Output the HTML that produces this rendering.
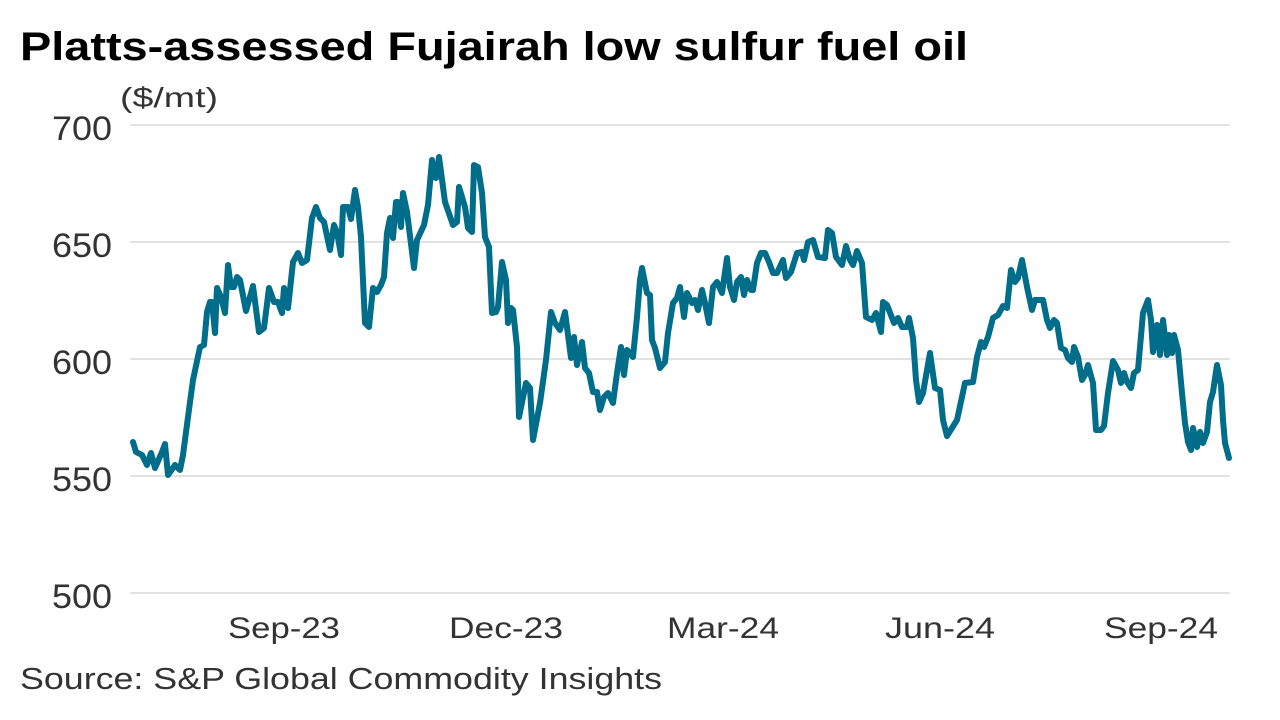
<!DOCTYPE html>
<html><head><meta charset="utf-8"><style>
body{margin:0;background:#fff;}
svg{display:block;font-family:"Liberation Sans",sans-serif;}
</style></head><body>
<svg width="1280" height="720" viewBox="0 0 1280 720">
<text x="20" y="60" font-size="40" font-weight="bold" fill="#000" textLength="948" lengthAdjust="spacingAndGlyphs">Platts-assessed Fujairah low sulfur fuel oil</text>
<text x="120" y="107" font-size="28" fill="#333" textLength="98" lengthAdjust="spacingAndGlyphs">($/mt)</text>
<g stroke="#d9d9d9" stroke-width="1.5">
<line x1="130" x2="1230" y1="125" y2="125"/>
<line x1="130" x2="1230" y1="242" y2="242"/>
<line x1="130" x2="1230" y1="359" y2="359"/>
<line x1="130" x2="1230" y1="476" y2="476"/>
<line x1="130" x2="1230" y1="593" y2="593"/>
</g>
<g font-size="34" fill="#333">
<text x="52" y="140" textLength="60" lengthAdjust="spacingAndGlyphs">700</text>
<text x="52" y="257" textLength="60" lengthAdjust="spacingAndGlyphs">650</text>
<text x="52" y="374" textLength="60" lengthAdjust="spacingAndGlyphs">600</text>
<text x="52" y="491" textLength="60" lengthAdjust="spacingAndGlyphs">550</text>
<text x="52" y="608" textLength="60" lengthAdjust="spacingAndGlyphs">500</text>
</g>
<g font-size="30" fill="#333">
<text x="228" y="638" textLength="112" lengthAdjust="spacingAndGlyphs">Sep-23</text>
<text x="449" y="638" textLength="114" lengthAdjust="spacingAndGlyphs">Dec-23</text>
<text x="667" y="638" textLength="112" lengthAdjust="spacingAndGlyphs">Mar-24</text>
<text x="885" y="638" textLength="110" lengthAdjust="spacingAndGlyphs">Jun-24</text>
<text x="1104" y="638" textLength="114" lengthAdjust="spacingAndGlyphs">Sep-24</text>
</g>
<text x="20" y="689" font-size="31" fill="#333" textLength="642" lengthAdjust="spacingAndGlyphs">Source: S&amp;P Global Commodity Insights</text>
<polyline fill="none" stroke="#006d8a" stroke-width="6" stroke-linejoin="round" stroke-linecap="round" points="
133,442 136,452 142,455 147,465 151,453 155,468 162,452 165,444 168,475 175,465 180,470 183,455 188,417 193,380 200,347 204,345 207,312 210,302 212,302 215,333 217,288 221,297 225,313 228,265 231,287 234,287 237,277 240,280 246,311 253,286 259,332 264,328 269,288 274,302 278,302 282,313 284,288 288,308 293,262 298,253 302,263 307,260 312,218 316,207 320,218 324,222 330,250 334,225 337,232 341,255 343,207 348,207 351,219 355,190 358,207 361,237 365,323 369,327 373,288 377,292 381,285 384,277 387,233 390,218 393,238 396,202 398,202 401,227 403,193 407,212 414,268 417,240 424,225 428,205 432,160 434,177 436,178 439,157 445,202 453,225 457,222 459,187 465,207 468,228 472,232 474,165 478,167 482,193 485,237 489,247 492,313 496,312 498,307 502,262 506,280 508,323 511,308 513,310 517,347 519,417 526,383 530,388 533,440 540,403 546,360 551,312 555,323 560,330 565,312 571,358 574,337 577,365 582,342 585,368 589,373 593,392 597,392 600,410 604,397 608,393 613,403 617,373 621,347 624,375 627,350 633,357 637,317 640,280 642,268 647,293 650,295 652,340 655,348 660,368 665,362 668,333 673,303 677,298 680,287 684,317 687,293 692,303 695,300 698,310 702,290 705,303 709,323 713,287 717,282 722,293 727,258 730,287 734,300 737,282 741,277 744,295 747,280 751,290 753,290 757,263 761,253 765,253 769,262 773,273 777,273 783,260 786,278 791,272 797,253 802,252 804,260 808,242 813,240 818,257 825,258 828,230 832,233 836,257 842,265 846,246 850,260 853,265 857,251 862,263 866,317 872,320 876,313 881,332 883,302 887,305 894,323 898,318 902,327 907,327 909,318 913,338 916,380 919,402 923,393 930,353 935,388 940,390 943,420 947,436 957,420 965,383 973,382 977,357 981,342 984,347 988,337 993,318 998,315 1003,306 1007,308 1011,270 1015,282 1018,278 1022,260 1027,287 1032,310 1035,300 1043,300 1047,320 1050,328 1054,320 1057,323 1061,348 1065,350 1068,358 1072,362 1074,347 1078,357 1082,380 1085,375 1088,365 1093,383 1096,430 1101,430 1104,426 1108,393 1113,361 1118,370 1121,383 1124,373 1127,382 1131,388 1134,373 1138,370 1143,313 1148,300 1151,320 1153,352 1157,325 1160,355 1163,320 1167,355 1169,335 1172,353 1174,335 1178,350 1182,393 1185,423 1188,442 1191,450 1193,428 1197,447 1200,432 1203,443 1207,432 1210,402 1213,392 1217,365 1221,385 1223,420 1225,443 1229,458"/>
</svg>
</body></html>
